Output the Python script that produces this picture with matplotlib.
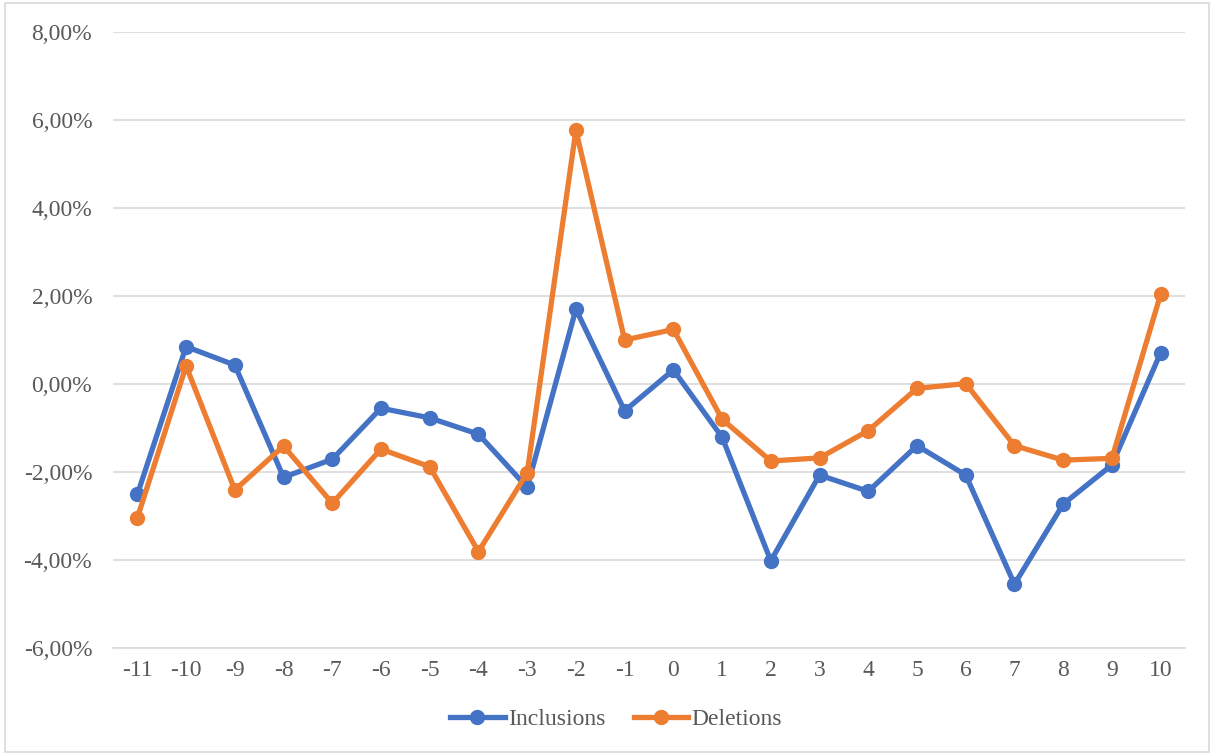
import matplotlib
matplotlib.use("Agg")
import matplotlib.pyplot as plt
from matplotlib.ticker import FuncFormatter
from matplotlib.patches import Rectangle

# Positions relative to the event (categories on the x axis)
positions = ["-11", "-10", "-9", "-8", "-7", "-6", "-5", "-4", "-3", "-2", "-1",
             "0", "1", "2", "3", "4", "5", "6", "7", "8", "9", "10"]

# Values in percent
inclusions = [-2.51, 0.85, 0.43, -2.12, -1.71, -0.55, -0.77, -1.14, -2.35, 1.70, -0.61,
              0.32, -1.21, -4.02, -2.07, -2.44, -1.40, -2.07, -4.55, -2.73, -1.84, 0.71]
deletions = [-3.04, 0.41, -2.41, -1.41, -2.71, -1.48, -1.88, -3.81, -2.02, 5.77, 1.00,
             1.24, -0.80, -1.75, -1.68, -1.06, -0.10, 0.01, -1.40, -1.73, -1.69, 2.04]

plt.rcParams["font.family"] = ["Liberation Serif", "DejaVu Serif"]
text_color = "#595959"

W, H = 1213, 754
fig = plt.figure(figsize=(W / 100, H / 100), dpi=100)
ax = fig.add_axes([113 / W, 1 - 648 / H, (1185 - 113) / W, (648 - 32) / H])

x = list(range(len(positions)))
ax.plot(x, inclusions, color="#4472C4", lw=3.8, marker="o", ms=10,
        label="Inclusions", solid_joinstyle="round", zorder=3)
ax.plot(x, deletions, color="#ED7D31", lw=3.8, marker="o", ms=10,
        label="Deletions", solid_joinstyle="round", zorder=4)

ax.set_xlim(-0.5, len(positions) - 0.5)
ax.set_ylim(-6, 8)
ax.set_yticks(range(-6, 9, 2))
ax.yaxis.set_major_formatter(FuncFormatter(lambda v, p: f"{v:.2f}%".replace(".", ",")))
ax.set_xticks(x)
ax.set_xticklabels(positions)

ax.grid(axis="y", color="#D9D9D9", lw=1.2)
ax.set_axisbelow(True)
for s in ["top", "right", "left"]:
    ax.spines[s].set_visible(False)
ax.spines["bottom"].set_color("#D9D9D9")
ax.spines["bottom"].set_linewidth(1.2)
ax.tick_params(length=0, labelsize=17, colors=text_color)
ax.tick_params(axis="y", pad=15)
ax.tick_params(axis="x", pad=9)

leg = fig.legend(loc="center", bbox_to_anchor=(0.508, 1 - 719 / H), ncol=2,
                 frameon=False, fontsize=17, handlelength=2.3,
                 handletextpad=0.15, columnspacing=1.2)
for t in leg.get_texts():
    t.set_color(text_color)

fig.patches.append(Rectangle((5 / W, 2 / H), (1209 - 5) / W, (751 - 2) / H,
                             transform=fig.transFigure, fill=False,
                             edgecolor="#D9D9D9", lw=1.2))

fig.savefig("out.png", dpi=100)
